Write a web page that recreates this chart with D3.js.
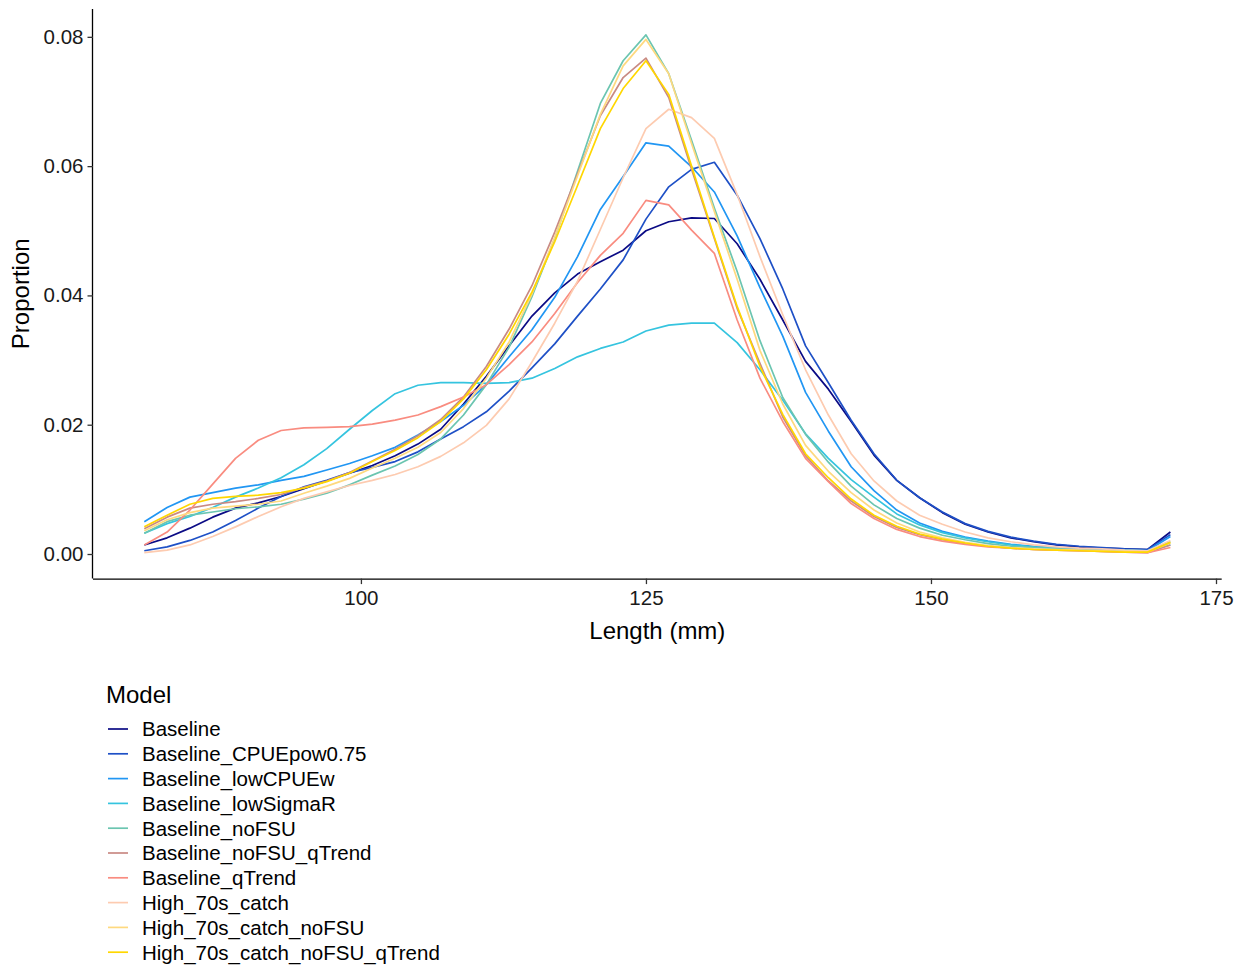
<!DOCTYPE html>
<html>
<head>
<meta charset="utf-8">
<script src="https://cdn.jsdelivr.net/npm/d3@7"></script>
<style>
  html, body { margin: 0; padding: 0; background: #fff; }
  svg { display: block; font-family: "Liberation Sans", Arial, sans-serif; }
</style>
</head>
<body>
<svg id="chart" width="1242" height="967"></svg>
<script>
// Length bins (mm)
const lengths = [81, 83, 85, 87, 89, 91, 93, 95, 97, 99, 101, 103, 105, 107, 109, 111, 113, 115, 117, 119,
  121, 123, 125, 127, 129, 131, 133, 135, 137, 139, 141, 143, 145, 147, 149, 151, 153, 155, 157, 159,
  161, 163, 165, 167, 169, 171];

const models = ["Baseline", "Baseline_CPUEpow0.75", "Baseline_lowCPUEw", "Baseline_lowSigmaR",
  "Baseline_noFSU", "Baseline_noFSU_qTrend", "Baseline_qTrend", "High_70s_catch",
  "High_70s_catch_noFSU", "High_70s_catch_noFSU_qTrend"];

const colors = ["#0b0b85", "#1e50c6", "#2196f3", "#35c4df", "#6bc5b0", "#c98a83", "#f98c80",
  "#fdcbb0", "#fed97f", "#ffd700"];

const baseline = [0.0014, 0.0025, 0.0040, 0.0057, 0.0071, 0.0079, 0.0089, 0.0101, 0.0113, 0.0125, 0.0137, 0.0152, 0.0170, 0.0193, 0.0232, 0.0275, 0.0322, 0.0368, 0.0404, 0.0433, 0.0452, 0.0470, 0.0500, 0.0514, 0.0520, 0.0519, 0.0480, 0.0425, 0.0362, 0.0298, 0.0255, 0.0205, 0.0153, 0.0114, 0.0087, 0.0064, 0.0046, 0.0034, 0.0025, 0.0019, 0.0014, 0.0011, 0.0009, 0.0008, 0.0007, 0.0034];
const cpuePow = [0.0005, 0.0011, 0.0021, 0.0034, 0.0052, 0.0071, 0.0089, 0.0104, 0.0114, 0.0126, 0.0134, 0.0143, 0.0158, 0.0178, 0.0197, 0.0220, 0.0252, 0.0288, 0.0325, 0.0368, 0.0410, 0.0455, 0.0518, 0.0568, 0.0595, 0.0606, 0.0555, 0.0488, 0.0410, 0.0322, 0.0265, 0.0207, 0.0155, 0.0114, 0.0087, 0.0065, 0.0047, 0.0035, 0.0026, 0.0020, 0.0015, 0.0012, 0.0010, 0.0008, 0.0007, 0.0030];
const lowCPUEw = [0.0050, 0.0072, 0.0088, 0.0095, 0.0102, 0.0107, 0.0114, 0.0120, 0.0130, 0.0140, 0.0152, 0.0165, 0.0184, 0.0205, 0.0230, 0.0262, 0.0305, 0.0347, 0.0397, 0.0460, 0.0533, 0.0584, 0.0636, 0.0631, 0.0599, 0.0560, 0.0492, 0.0412, 0.0337, 0.0250, 0.0190, 0.0135, 0.0098, 0.0068, 0.0048, 0.0035, 0.0026, 0.0020, 0.0015, 0.0012, 0.0010, 0.0008, 0.0007, 0.0006, 0.0005, 0.0027];
const lowSigmaR = [0.0032, 0.0047, 0.0058, 0.0072, 0.0088, 0.0102, 0.0118, 0.0138, 0.0163, 0.0193, 0.0222, 0.0248, 0.0261, 0.0265, 0.0265, 0.0264, 0.0265, 0.0272, 0.0287, 0.0305, 0.0318, 0.0328, 0.0345, 0.0354, 0.0357, 0.0357, 0.0327, 0.0285, 0.0238, 0.0186, 0.0148, 0.0115, 0.0088, 0.0062, 0.0045, 0.0033, 0.0025, 0.0019, 0.0014, 0.0011, 0.0009, 0.0008, 0.0007, 0.0006, 0.0005, 0.0014];
const noFSU = [0.0032, 0.0050, 0.0060, 0.0065, 0.0070, 0.0073, 0.0077, 0.0085, 0.0094, 0.0107, 0.0122, 0.0136, 0.0154, 0.0178, 0.0215, 0.0262, 0.0320, 0.0398, 0.0488, 0.0592, 0.0697, 0.0763, 0.0803, 0.0743, 0.0640, 0.0535, 0.0437, 0.0330, 0.0242, 0.0185, 0.0142, 0.0105, 0.0076, 0.0055, 0.0040, 0.0029, 0.0022, 0.0016, 0.0012, 0.0010, 0.0008, 0.0007, 0.0006, 0.0005, 0.0004, 0.0019];
const noFSUqTrend = [0.0039, 0.0057, 0.0071, 0.0077, 0.0081, 0.0086, 0.0092, 0.0103, 0.0113, 0.0126, 0.0144, 0.0162, 0.0183, 0.0208, 0.0243, 0.0290, 0.0348, 0.0415, 0.0498, 0.0588, 0.0678, 0.0737, 0.0767, 0.0706, 0.0595, 0.0488, 0.0380, 0.0295, 0.0212, 0.0152, 0.0113, 0.0082, 0.0058, 0.0041, 0.0030, 0.0022, 0.0016, 0.0012, 0.0009, 0.0007, 0.0006, 0.0005, 0.0004, 0.0003, 0.0002, 0.0014];
const qTrend = [0.0014, 0.0034, 0.0068, 0.0108, 0.0148, 0.0176, 0.0191, 0.0195, 0.0196, 0.0197, 0.0201, 0.0207, 0.0215, 0.0228, 0.0243, 0.0262, 0.0293, 0.0328, 0.0372, 0.0420, 0.0462, 0.0496, 0.0547, 0.0540, 0.0501, 0.0465, 0.0362, 0.0272, 0.0205, 0.0148, 0.0112, 0.0078, 0.0055, 0.0038, 0.0027, 0.0020, 0.0015, 0.0011, 0.0009, 0.0007, 0.0006, 0.0005, 0.0004, 0.0003, 0.0002, 0.0010];
const high70s = [0.0002, 0.0006, 0.0014, 0.0027, 0.0042, 0.0058, 0.0073, 0.0086, 0.0096, 0.0106, 0.0114, 0.0123, 0.0135, 0.0151, 0.0172, 0.0199, 0.0240, 0.0297, 0.0357, 0.0422, 0.0502, 0.0582, 0.0658, 0.0688, 0.0675, 0.0643, 0.0556, 0.0460, 0.0370, 0.0285, 0.0215, 0.0155, 0.0113, 0.0082, 0.0060, 0.0046, 0.0034, 0.0025, 0.0019, 0.0014, 0.0011, 0.0009, 0.0008, 0.0006, 0.0005, 0.0021];
const high70sNoFSU = [0.0036, 0.0053, 0.0064, 0.0071, 0.0074, 0.0077, 0.0082, 0.0094, 0.0105, 0.0117, 0.0133, 0.0148, 0.0165, 0.0188, 0.0225, 0.0272, 0.0328, 0.0402, 0.0490, 0.0585, 0.0680, 0.0755, 0.0796, 0.0743, 0.0635, 0.0530, 0.0425, 0.0315, 0.0232, 0.0168, 0.0128, 0.0095, 0.0068, 0.0048, 0.0034, 0.0025, 0.0018, 0.0013, 0.0010, 0.0008, 0.0007, 0.0006, 0.0005, 0.0004, 0.0003, 0.0017];
const high70sNoFSUqTrend = [0.0042, 0.0060, 0.0077, 0.0086, 0.0089, 0.0091, 0.0095, 0.0102, 0.0112, 0.0125, 0.0143, 0.0160, 0.0180, 0.0205, 0.0240, 0.0285, 0.0340, 0.0405, 0.0483, 0.0570, 0.0658, 0.0720, 0.0763, 0.0711, 0.0600, 0.0490, 0.0383, 0.0290, 0.0216, 0.0155, 0.0118, 0.0085, 0.0060, 0.0043, 0.0031, 0.0023, 0.0017, 0.0012, 0.0009, 0.0007, 0.0006, 0.0005, 0.0004, 0.0003, 0.0003, 0.0018];

const xTicks = [100, 125, 150, 175];
const yTicks = [0.00, 0.02, 0.04, 0.06, 0.08];

const seriesValues = [baseline, cpuePow, lowCPUEw, lowSigmaR, noFSU, noFSUqTrend, qTrend,
  high70s, high70sNoFSU, high70sNoFSUqTrend];

const series = models.map((m, i) => ({
  name: m, color: colors[i],
  points: lengths.map((L, j) => ({ x: L, y: seriesValues[i][j] }))
}));

const svg = d3.select("#chart");
const panel = { left: 93, right: 1221.7, top: 9, bottom: 578.6 };

// ggplot-style 5% expansion
const xExt = d3.extent(lengths);
const allY = seriesValues.flat();
const yExt = d3.extent(allY);
const xPad = (xExt[1] - xExt[0]) * 0.05;
const yPad = (yExt[1] - yExt[0]) * 0.05;

const x = d3.scaleLinear().domain([xExt[0] - xPad, xExt[1] + xPad]).range([panel.left, panel.right]);
const y = d3.scaleLinear().domain([yExt[0] - yPad, yExt[1] + yPad]).range([panel.bottom, panel.top]);

const line = d3.line().x(d => x(d.x)).y(d => y(d.y));

const gLines = svg.append("g");
series.forEach(s => {
  gLines.append("path")
    .datum(s.points)
    .attr("d", line)
    .attr("fill", "none")
    .attr("stroke", s.color)
    .attr("stroke-width", 1.7)
    .attr("stroke-linejoin", "round");
});

// Axes
const xAxis = d3.axisBottom(x).tickValues(xTicks).tickFormat(d3.format("d")).tickSize(5.5).tickPadding(6);
const yAxis = d3.axisLeft(y).tickValues(yTicks).tickFormat(d3.format(".2f")).tickSize(5.5).tickPadding(4);

const gx = svg.append("g").attr("transform", `translate(0,${panel.bottom})`).call(xAxis);
const gy = svg.append("g").attr("transform", `translate(${panel.left},0)`).call(yAxis);

[gx, gy].forEach(g => {
  g.select(".domain").attr("stroke", "#000").attr("stroke-width", 1.3);
  g.selectAll(".tick line").attr("stroke", "#333").attr("stroke-width", 1.3);
  g.selectAll(".tick text").attr("fill", "#1a1a1a").style("font-size", "20.5px")
    .style("font-family", '"Liberation Sans", Arial, sans-serif');
});
gx.select(".domain").attr("d", `M${panel.left},0.5H${panel.right}`);
gy.select(".domain").attr("d", `M-0.5,${panel.bottom}V${panel.top}`);

// Axis titles
svg.append("text")
  .attr("x", (panel.left + panel.right) / 2)
  .attr("y", 639)
  .attr("text-anchor", "middle")
  .style("font-size", "24px")
  .attr("fill", "#000")
  .text("Length (mm)");

svg.append("text")
  .attr("transform", `translate(29,${(panel.top + panel.bottom) / 2}) rotate(-90)`)
  .attr("text-anchor", "middle")
  .style("font-size", "24px")
  .attr("fill", "#000")
  .text("Proportion");

// Legend
const legend = svg.append("g");
legend.append("text")
  .attr("x", 106).attr("y", 702.5)
  .style("font-size", "24px")
  .attr("fill", "#000")
  .text("Model");

series.forEach((s, i) => {
  const cy = 729 + i * 24.8;
  legend.append("line")
    .attr("x1", 108).attr("x2", 128)
    .attr("y1", cy).attr("y2", cy)
    .attr("stroke", s.color).attr("stroke-width", 1.7);
  legend.append("text")
    .attr("x", 142).attr("y", cy + 7.3)
    .style("font-size", "20.5px")
    .attr("fill", "#000")
    .text(s.name);
});
</script>
</body>
</html>
